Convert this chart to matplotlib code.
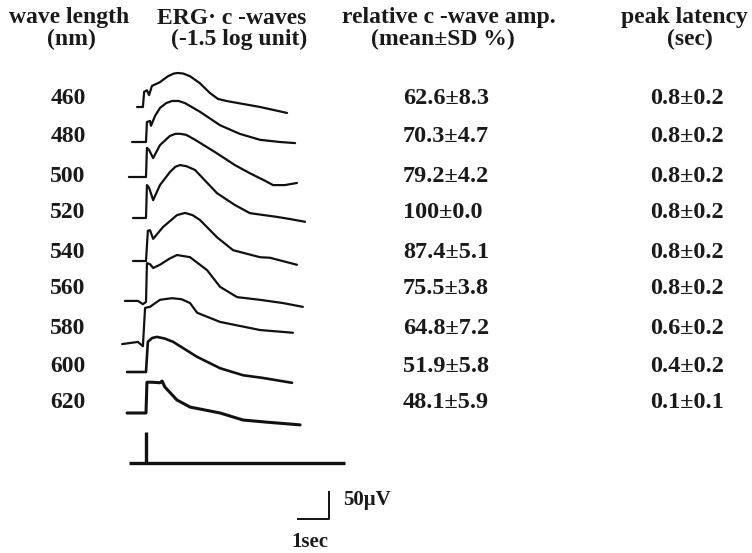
import numpy as np
import matplotlib
matplotlib.use("Agg")
import matplotlib.pyplot as plt

# wavelengths and table values
wavelengths = [460, 480, 500, 520, 540, 560, 580, 600, 620]
rel_amp = ["62.6±8.3", "70.3±4.7", "79.2±4.2", "100±0.0", "87.4±5.1",
           "75.5±3.8", "64.8±7.2", "51.9±5.8", "48.1±5.9"]
peak_lat = ["0.8±0.2", "0.8±0.2", "0.8±0.2", "0.8±0.2", "0.8±0.2",
            "0.8±0.2", "0.6±0.2", "0.4±0.2", "0.1±0.1"]

# traced ERG c-waves: time (sec from flash) and amplitude (uV from baseline)
t460 = [-0.29, -0.10, -0.06, 0.03, 0.10, 0.19, 0.45, 0.71, 0.90, 1.03, 1.20, 1.42, 1.74, 2.06, 2.32, 2.61, 3.68, 4.55]
v460 = [0, 0, 28, 31, 22, 39, 46, 57, 62, 63, 62, 57, 44, 26, 15, 11, 0, -11]
t480 = [-0.45, 0.0, 0.03, 0.13, 0.16, 0.29, 0.45, 0.65, 0.84, 1.05, 1.26, 1.74, 2.39, 3.03, 3.68, 4.32, 4.81]
v480 = [0, 0, 37, 39, 30, 48, 63, 72, 76, 76, 72, 56, 31, 15, 4, 0, -2]
t500 = [-0.55, 0.0, 0.03, 0.10, 0.23, 0.45, 0.77, 0.95, 1.10, 1.30, 1.58, 2.23, 2.87, 3.35, 3.84, 4.10, 4.48, 4.87]
v500 = [0, 0, 54, 50, 35, 59, 76, 80, 80, 78, 69, 46, 22, 7, -7, -15, -15, -11]
t520 = [-0.42, 0.0, 0.03, 0.10, 0.23, 0.45, 0.77, 0.95, 1.10, 1.30, 1.58, 2.29, 2.87, 3.35, 4.23, 4.65, 5.13]
v520 = [0, 0, 61, 56, 33, 61, 85, 95, 98, 96, 89, 46, 24, 9, 2, -2, -7]
t540 = [-0.42, 0.0, 0.06, 0.13, 0.23, 0.55, 1.00, 1.26, 1.50, 1.74, 2.29, 2.81, 3.68, 4.00, 4.87]
v540 = [0, 0, 56, 57, 41, 63, 85, 89, 85, 76, 44, 20, 7, 6, -7]
t560 = [-0.68, -0.26, -0.10, 0.0, 0.03, 0.13, 0.23, 0.45, 0.75, 1.00, 1.42, 1.97, 2.39, 2.94, 3.68, 4.42, 5.06]
v560 = [2, 2, -4, 0, 72, 70, 63, 69, 80, 87, 83, 59, 28, 9, 4, -2, -9]
t580 = [-0.77, -0.26, -0.10, -0.03, 0.13, 0.45, 0.84, 1.15, 1.42, 1.65, 2.39, 3.68, 4.74]
v580 = [-2, 2, -6, 65, 67, 80, 83, 81, 74, 56, 39, 24, 19]
t600 = [-0.61, 0.0, 0.06, 0.20, 0.35, 0.60, 0.87, 1.65, 2.39, 3.13, 3.77, 4.71]
v600 = [0, 0, 56, 63, 65, 62, 56, 28, 7, -6, -11, -20]
t620 = [-0.61, 0.0, 0.03, 0.19, 0.45, 0.52, 0.61, 1.00, 1.42, 2.39, 3.13, 3.90, 4.97]
v620 = [0, 0, 57, 57, 56, 59, 48, 24, 11, 0, -13, -17, -22]

traces_t = [t460, t480, t500, t520, t540, t560, t580, t600, t620]
traces_v = [v460, v480, v500, v520, v540, v560, v580, v600, v620]
trace_lw = [1.6, 1.6, 1.6, 1.6, 1.6, 1.6, 1.6, 1.9, 2.2]

# layout (pixels)
W, H = 752, 553
SEC_PX = 31.0
UV_PX = 27.0 / 50.0
row_y = [99, 137, 176, 213, 252, 289, 328, 366, 403]
base_y = [107, 142, 177, 218, 261, 302, 343, 372, 413]
t0_x = 146
ax_l, ax_r, ax_t, ax_b = 120, 350, 60, 530

font = dict(family="Liberation Serif", fontweight="bold", color="#1a1a1a")

fig = plt.figure(figsize=(W / 100, H / 100), dpi=100)
fig.patch.set_facecolor("white")

# text layer in pixel coordinates
tx = fig.add_axes([0, 0, 1, 1])
tx.set_xlim(0, W)
tx.set_ylim(H, 0)
tx.axis("off")

hs = 17
tx.text(69, 18, "wave length", ha="center", va="center", fontsize=hs, **font)
tx.text(71, 39, "(nm)", ha="center", va="center", fontsize=hs, **font)
tx.text(232, 18, "ERG· c -waves", ha="center", va="center", fontsize=hs, **font)
tx.text(239, 39, "(-1.5 log unit)", ha="center", va="center", fontsize=hs, **font)
tx.text(449, 18, "relative c -wave amp.", ha="center", va="center", fontsize=hs, **font)
tx.text(443, 39, "(mean±SD %)", ha="center", va="center", fontsize=hs, **font)
tx.text(684, 18, "peak latency", ha="center", va="center", fontsize=hs, **font)
tx.text(690, 39, "(sec)", ha="center", va="center", fontsize=hs, **font)

for y, wl, amp, lat in zip(row_y, wavelengths, rel_amp, peak_lat):
    tx.text(68, y, str(wl), ha="center", va="center", fontsize=17, **font)
    tx.text(403, y, amp, ha="left", va="center", fontsize=17.5, **font)
    tx.text(650, y, lat, ha="left", va="center", fontsize=17.5, **font)

tx.text(343, 500, "50μV", ha="left", va="center", fontsize=15, **font)
tx.text(310, 542, "1sec", ha="center", va="center", fontsize=15, **font)

# trace layer: x in seconds, y in microvolts
ax = fig.add_axes([ax_l / W, (H - ax_b) / H, (ax_r - ax_l) / W, (ax_b - ax_t) / H])
ax.set_xlim((ax_l - t0_x) / SEC_PX, (ax_r - t0_x) / SEC_PX)
ax.set_ylim(0, (ax_b - ax_t) / UV_PX)
ax.axis("off")
ax.patch.set_alpha(0)

for t, v, b, lw in zip(traces_t, traces_v, base_y, trace_lw):
    off = (ax_b - b) / UV_PX
    ax.plot(t, np.array(v) + off, color="#111111", lw=lw,
            solid_joinstyle="round", solid_capstyle="round")

# stimulus marker
stim_y = (ax_b - 463) / UV_PX
ax.plot([(129 - t0_x) / SEC_PX, (345 - t0_x) / SEC_PX], [stim_y, stim_y],
        color="#111111", lw=2.4, solid_capstyle="butt")
ax.plot([0, 0], [stim_y, stim_y + 31 / UV_PX], color="#111111", lw=2.4,
        solid_capstyle="butt")

# calibration bar: 1 sec, 50 uV
cal_t = (298 - t0_x) / SEC_PX
cal_y = (ax_b - 519) / UV_PX
ax.plot([cal_t, cal_t + 1.0, cal_t + 1.0], [cal_y, cal_y, cal_y + 50],
        color="#111111", lw=1.4, clip_on=False)

fig.savefig("out.png", dpi=100, facecolor="white")
